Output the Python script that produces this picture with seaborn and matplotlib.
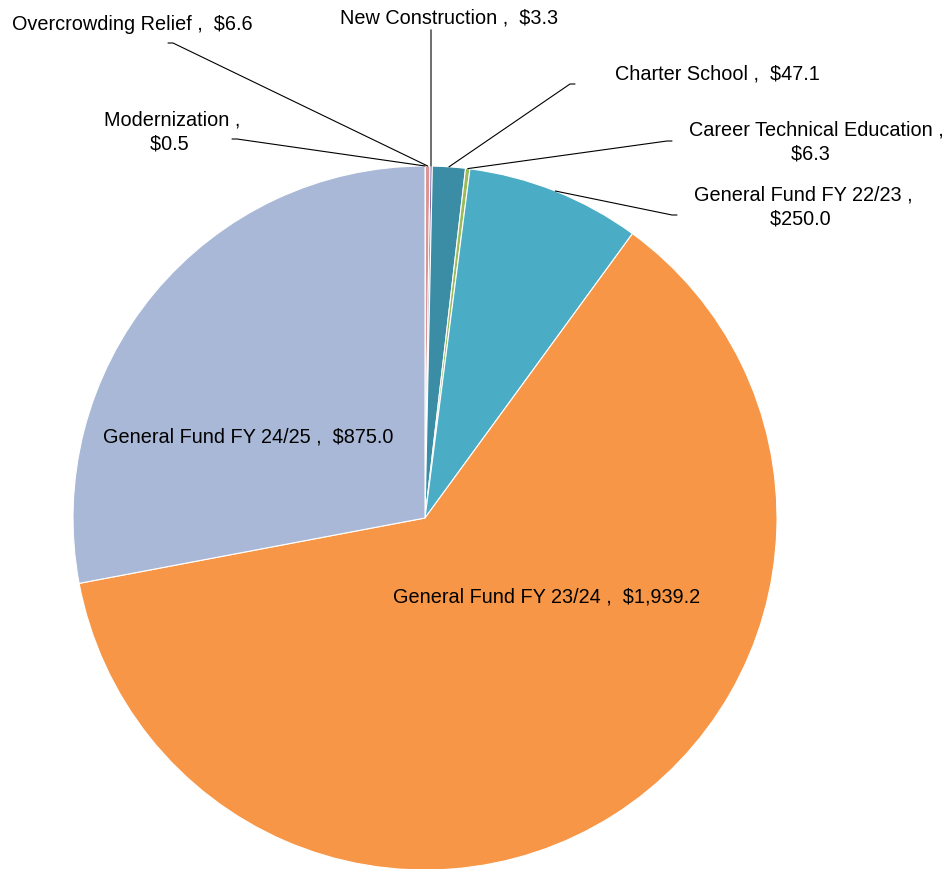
import numpy as np
import seaborn as sns
import matplotlib.pyplot as plt

# funding sources, in $ millions, clockwise from 12 o'clock
categories = [
    "Modernization",
    "Overcrowding Relief",
    "New Construction",
    "Charter School",
    "Career Technical Education",
    "General Fund FY 22/23",
    "General Fund FY 23/24",
    "General Fund FY 24/25",
]
amounts = [0.5, 6.6, 3.3, 47.1, 6.3, 250.0, 1939.2, 875.0]
colors = ["#4F81BD", "#D99694", "#8064A2", "#3B8DA5", "#9BBB59",
          "#4BACC6", "#F79646", "#A9B8D6"]

sns.set_theme(style="white")
plt.rcParams["font.family"] = ["Liberation Sans", "DejaVu Sans"]

W, H = 948, 869
CX, CY, R = 425, 518, 352


def px(x, y):
    # pixel position in the figure -> pie data units
    return (x - CX) / R, (CY - y) / R


fig = plt.figure(figsize=(W / 100, H / 100), dpi=100)
ax = fig.add_axes([0, 0, 1, 1])

wedges, _ = ax.pie(
    amounts,
    colors=colors,
    startangle=90,
    counterclock=False,
    radius=1.0,
    wedgeprops={"edgecolor": "white", "linewidth": 0.8},
)
ax.set_xlim((0 - CX) / R, (W - CX) / R)
ax.set_ylim((CY - H) / R, CY / R)
ax.set_aspect("auto")
ax.axis("off")

fs = 14.3

# label text positions (pixel centres) and leader-line start points
label_pos = {
    "Modernization": ((172, 132), "{} ,\n${:.1f} ", (232, 139)),
    "Overcrowding Relief": ((132, 25), "{} ,  ${:.1f}", (168, 43)),
    "New Construction": ((449, 17.5), "{} ,  ${:.1f}", (431, 30)),
    "Charter School": ((717, 74), "{} ,  ${:.1f}", (575, 84)),
    "Career Technical Education": ((816, 142), "{} ,\n${:.1f}  ", (672, 141)),
    "General Fund FY 22/23": ((803, 207), "{} ,\n${:.1f} ", (677, 215)),
    "General Fund FY 23/24": ((547, 597), "{} ,  ${:,.1f}", None),
    "General Fund FY 24/25": ((248, 437), "{} ,  ${:,.1f}", None),
}

for w, name, val in zip(wedges, categories, amounts):
    (tx, ty), fmt, lead = label_pos[name]
    x, y = px(tx, ty)
    ax.text(x, y, fmt.format(name, val), ha="center", va="center",
            fontsize=fs, color="black", linespacing=1.33)
    if lead is None:
        continue
    mid = np.deg2rad((w.theta1 + w.theta2) / 2)
    ex, ey = np.cos(mid), np.sin(mid)
    sx, sy = px(*lead)
    if name == "New Construction":
        ax.plot([sx, sx], [sy, ey], color="#555555", lw=1.2)
    else:
        step = -5 / R if sx > ex else 5 / R
        ax.plot([sx, sx + step, ex], [sy, sy, ey], color="black", lw=0.8)

fig.savefig("out.png", dpi=100)
